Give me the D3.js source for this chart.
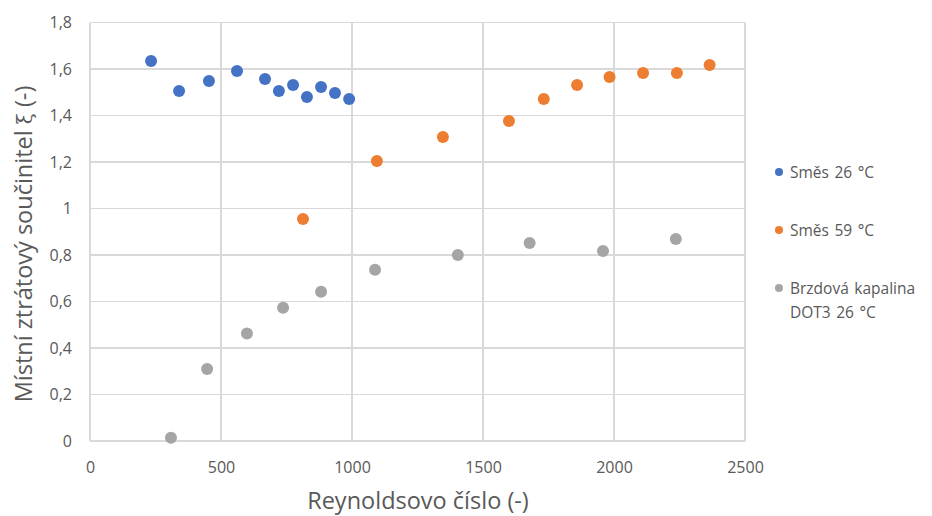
<!DOCTYPE html>
<html>
<head>
<meta charset="utf-8">
<script src="https://cdn.jsdelivr.net/npm/d3@7"></script>
<style>
  html, body { margin: 0; padding: 0; background: #fff; }
  svg { display: block; }
  text { font-family: "Open Sans", "Noto Sans", sans-serif; fill: #595959; }
</style>
</head>
<body>
<script>
// Series: Reynolds number vs. local loss coefficient
const smes26Re = [233, 340, 454, 561, 668, 721, 775, 828, 882, 935, 989];
const smes26Xi = [1.634, 1.505, 1.548, 1.591, 1.557, 1.505, 1.531, 1.480, 1.523, 1.497, 1.471];

const smes59Re = [813, 1095, 1347, 1599, 1732, 1859, 1983, 2111, 2240, 2365];
const smes59Xi = [0.955, 1.204, 1.308, 1.376, 1.471, 1.531, 1.566, 1.583, 1.583, 1.617];

const dot3Re = [309, 447, 599, 737, 882, 1088, 1404, 1678, 1958, 2236];
const dot3Xi = [0.014, 0.310, 0.462, 0.573, 0.642, 0.737, 0.800, 0.852, 0.817, 0.869];

const xTicks = [0, 500, 1000, 1500, 2000, 2500];
const yTicks = [0, 0.2, 0.4, 0.6, 0.8, 1, 1.2, 1.4, 1.6, 1.8];

const seriesNames = ["Směs 26 °C", "Směs 59 °C", ["Brzdová kapalina", "DOT3 26 °C"]];
const seriesColors = ["#4472C4", "#ED7D31", "#A5A5A5"];

const W = 932, H = 516;
const plot = { left: 90, right: 745, top: 22.5, bottom: 441 };

const svg = d3.select("body").append("svg").attr("width", W).attr("height", H);

const x = d3.scaleLinear().domain([0, 2500]).range([plot.left, plot.right]);
const y = d3.scaleLinear().domain([0, 1.8]).range([plot.bottom, plot.top]);

const fmt = v => String(+v.toFixed(1)).replace(".", ",");

// Gridlines
const grid = svg.append("g").attr("shape-rendering", "crispEdges");
grid.selectAll("line.gx").data(xTicks).join("line")
  .attr("x1", d => x(d)).attr("x2", d => x(d))
  .attr("y1", plot.top).attr("y2", plot.bottom)
  .attr("stroke", "#d9d9d9").attr("stroke-width", 1.2);
grid.selectAll("line.gy").data(yTicks).join("line")
  .attr("y1", d => y(d)).attr("y2", d => y(d))
  .attr("x1", plot.left).attr("x2", plot.right)
  .attr("stroke", "#d9d9d9").attr("stroke-width", 1.2);

// Axes (labels only; lines come from the grid)
const xAxis = svg.append("g").attr("transform", `translate(0,${plot.bottom})`)
  .call(d3.axisBottom(x).tickValues(xTicks).tickSize(0).tickPadding(21).tickFormat(d => d));
const yAxis = svg.append("g").attr("transform", `translate(${plot.left},0)`)
  .call(d3.axisLeft(y).tickValues(yTicks).tickSize(0).tickPadding(18).tickFormat(fmt));
[xAxis, yAxis].forEach(g => {
  g.select(".domain").remove();
  g.selectAll("text").attr("font-size", 16).attr("fill", "#595959")
    .attr("font-family", "\"Open Sans\", \"Noto Sans\", sans-serif");
});

// Data points
const series = [
  smes26Re.map((r, i) => ({ re: r, xi: smes26Xi[i] })),
  smes59Re.map((r, i) => ({ re: r, xi: smes59Xi[i] })),
  dot3Re.map((r, i) => ({ re: r, xi: dot3Xi[i] }))
];
series.forEach((pts, k) => {
  svg.append("g").selectAll("circle").data(pts).join("circle")
    .attr("cx", d => x(d.re)).attr("cy", d => y(d.xi))
    .attr("r", 6).attr("fill", seriesColors[k]);
});

// Axis titles
svg.append("text")
  .attr("x", 418).attr("y", 509)
  .attr("text-anchor", "middle").attr("font-size", 23.5)
  .text("Reynoldsovo číslo (-)");

const yTitle = svg.append("text")
  .attr("transform", "translate(32,244) rotate(-90)")
  .attr("text-anchor", "middle").attr("font-size", 23.5);
yTitle.append("tspan").text("Místní ztrátový součinitel ");
yTitle.append("tspan").attr("font-size", 20).attr("font-family", "\"DejaVu Serif\", serif").text("ξ");
yTitle.append("tspan").text(" (-)");

// Legend
const legY = [172, 230, 288];
seriesNames.forEach((name, k) => {
  const g = svg.append("g");
  g.append("circle").attr("cx", 779).attr("cy", legY[k]).attr("r", 4).attr("fill", seriesColors[k]);
  const t = g.append("text").attr("x", 790).attr("y", legY[k] + 6)
    .attr("font-size", 15.5).attr("word-spacing", 1.5);
  const lines = Array.isArray(name) ? name : [name];
  lines.forEach((ln, i) => t.append("tspan").attr("x", 790).attr("dy", i === 0 ? 0 : 24).text(ln));
});
</script>
</body>
</html>
